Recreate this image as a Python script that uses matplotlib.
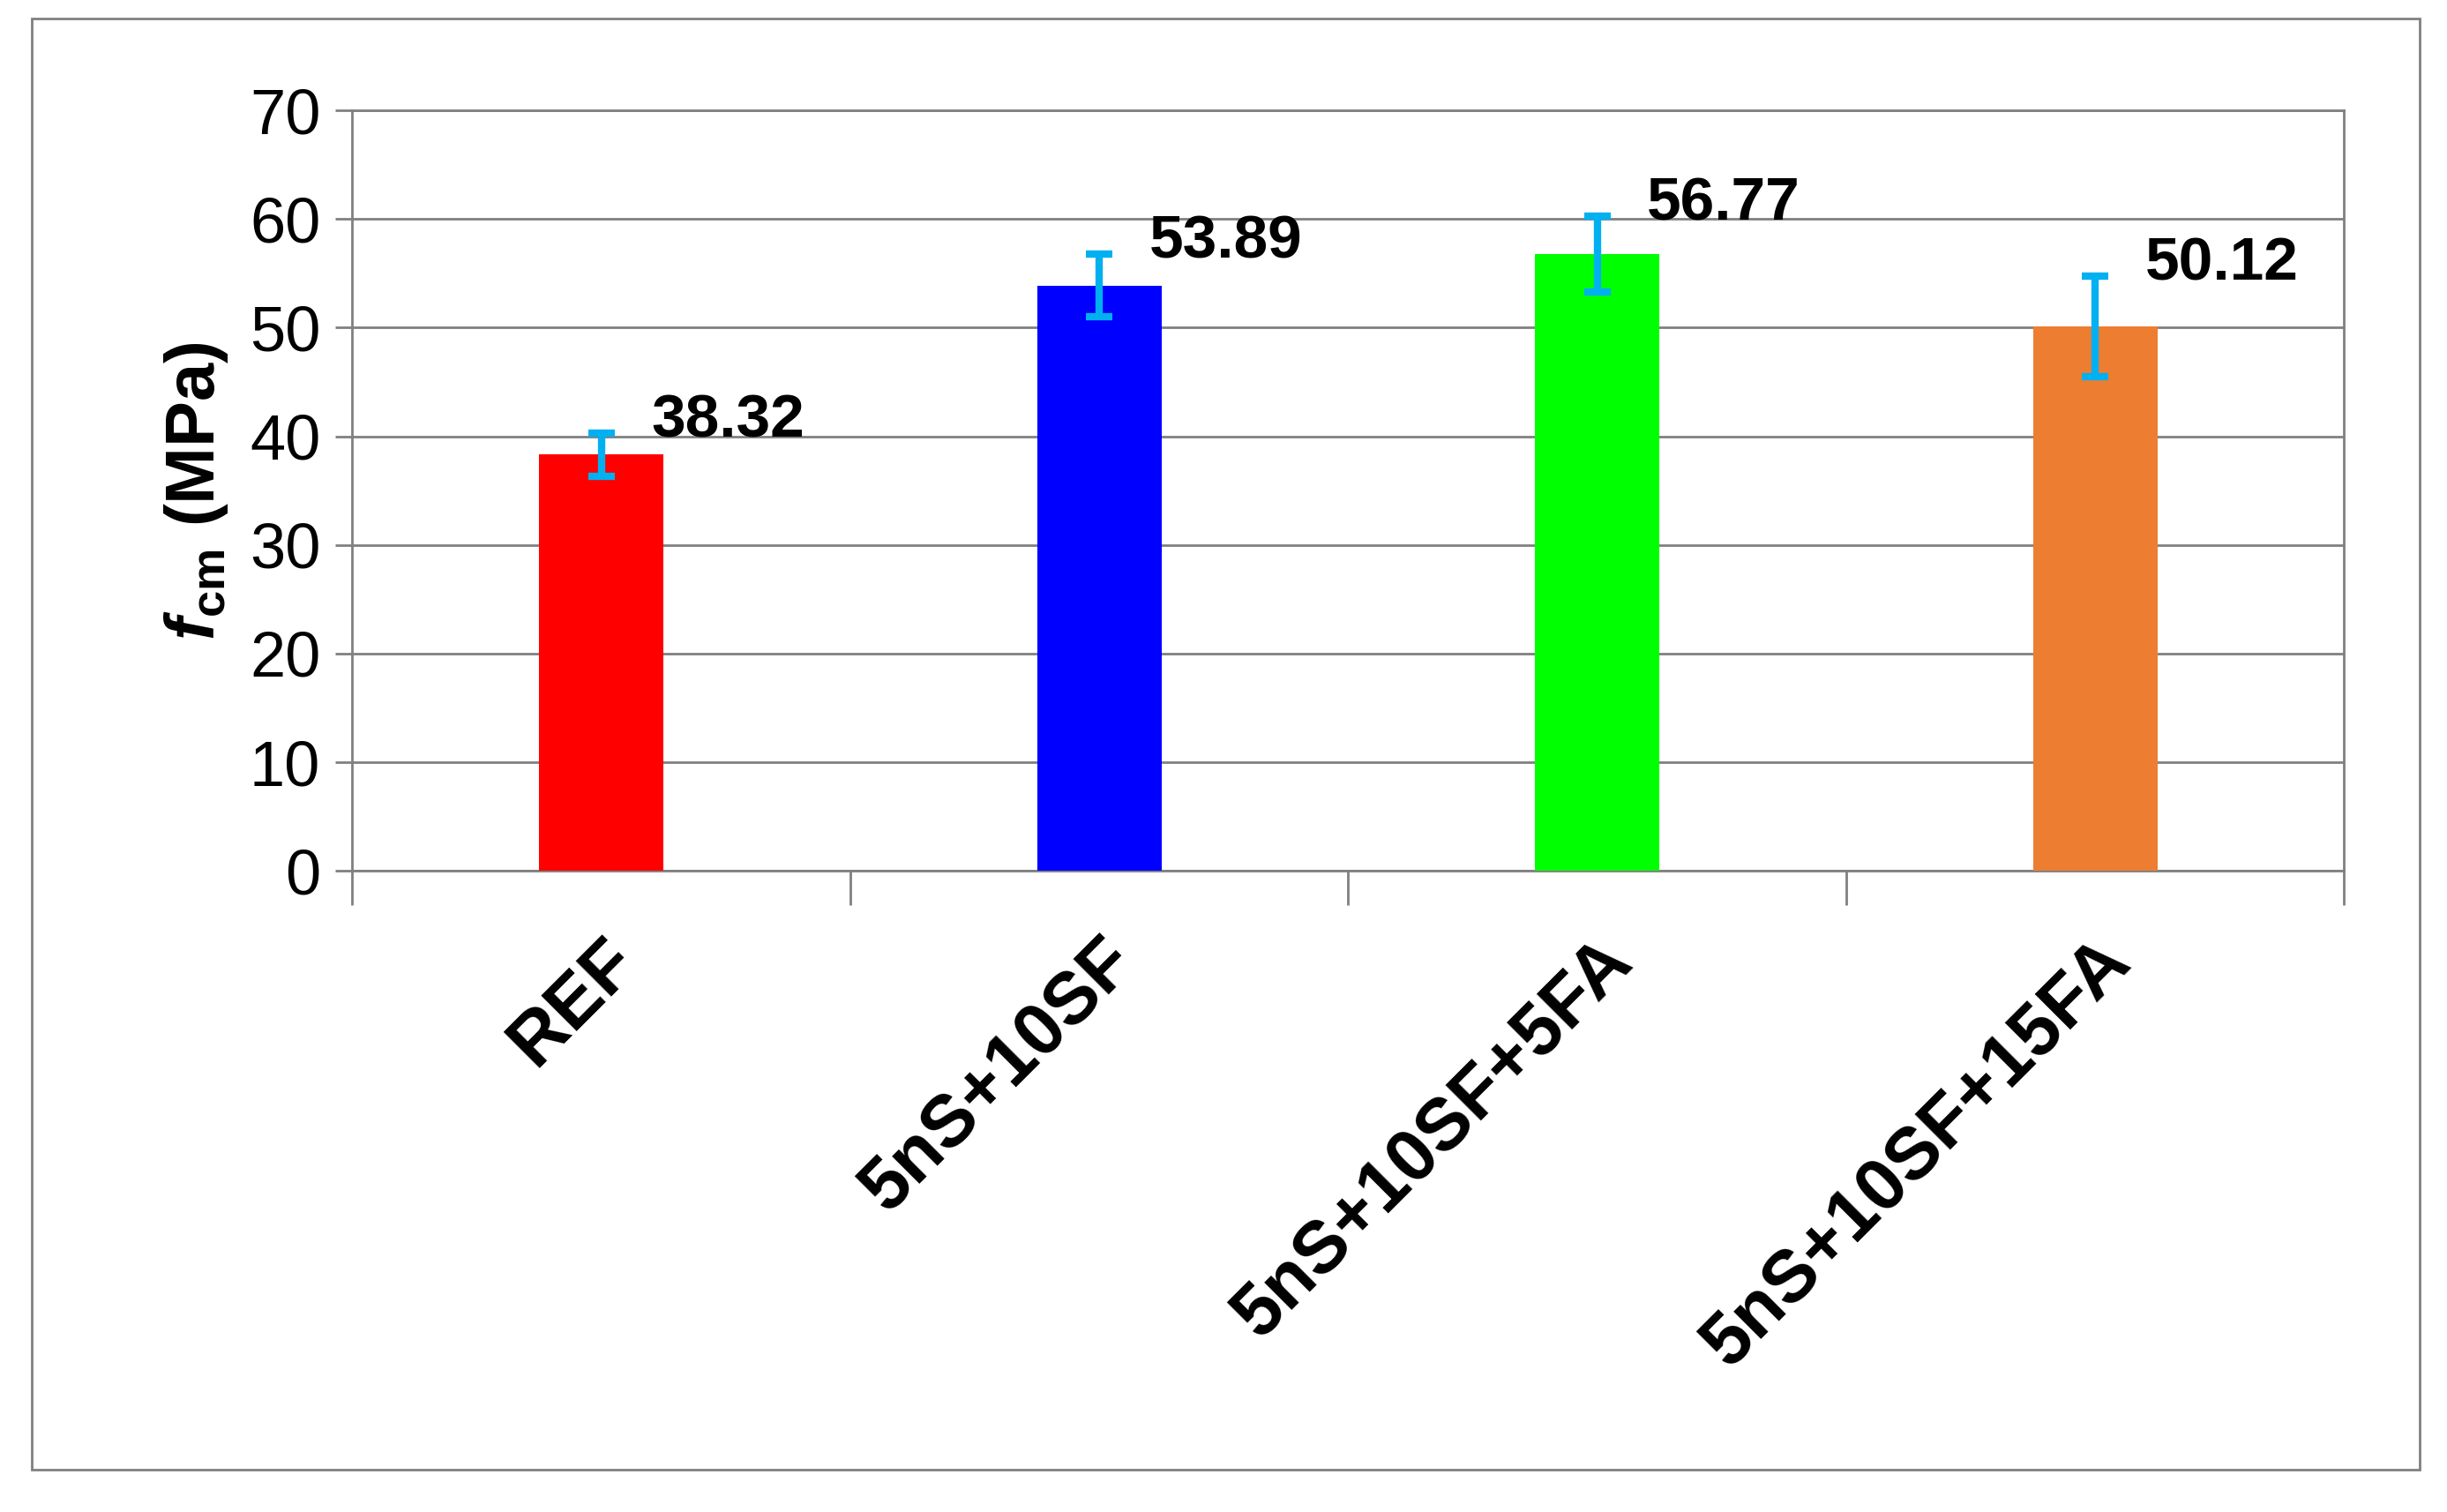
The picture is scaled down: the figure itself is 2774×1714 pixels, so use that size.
import matplotlib
matplotlib.use("Agg")
import matplotlib.pyplot as plt
from matplotlib.patches import Rectangle

plt.rcParams['font.family'] = ['Liberation Sans', 'DejaVu Sans']
plt.rcParams['mathtext.fontset'] = 'custom'
plt.rcParams['mathtext.rm'] = 'Liberation Sans'
plt.rcParams['mathtext.bf'] = 'Liberation Sans:bold'
plt.rcParams['mathtext.bfit'] = 'Liberation Sans:bold:italic'

categories = ["REF", "5nS+10SF", "5nS+10SF+5FA", "5nS+10SF+15FA"]
values = [38.32, 53.89, 56.77, 50.12]
errors = [2.0, 2.9, 3.5, 4.6]
colors = ["#ff0000", "#0000ff", "#00ff00", "#ed7d31"]

fig = plt.figure(figsize=(27.74, 17.14), dpi=100)
fig.patches.append(Rectangle((0.013, 0.028), 0.976, 0.96, transform=fig.transFigure,
                             fill=False, edgecolor="#808080", lw=2))
ax = fig.add_axes([0.144, 0.424, 0.814, 0.503])

x = range(len(categories))
ax.bar(x, values, width=0.25, color=colors, zorder=3)
ax.errorbar(x, values, yerr=errors, fmt='none', ecolor="#00b0f0", elinewidth=6,
            capsize=11, capthick=6, zorder=4)
for i, v in enumerate(values):
    ax.text(i + 0.1, v + errors[i] - 1.5, f"{v:.2f}", fontsize=50, fontweight='bold',
            ha='left', va='bottom')

ax.set_xlim(-0.5, 3.5)
ax.set_ylim(0, 70)
ax.set_yticks(range(0, 71, 10))
ax.yaxis.grid(True, color="#808080", lw=2, zorder=0)
ax.tick_params(axis='y', labelsize=52, length=14, width=2, color="#808080", pad=12)
ax.set_xticks([-0.5, 0.5, 1.5, 2.5, 3.5])
ax.set_xticklabels([])
ax.tick_params(axis='x', length=28, width=2, color="#808080")
ax.set_xticks(list(x), minor=True)
ax.set_xticklabels(categories, minor=True, rotation=45, ha='right', rotation_mode='anchor',
                   fontsize=60, fontweight='bold')
ax.tick_params(axis='x', which='minor', length=0, pad=45)
for s in ax.spines.values():
    s.set_color("#808080")
    s.set_linewidth(2)
ax.set_ylabel(r'$\mathbfit{f}_{\mathbf{cm}}$ (MPa)', fontsize=56, fontweight='bold', labelpad=16)

fig.savefig("out.png", dpi=100)
